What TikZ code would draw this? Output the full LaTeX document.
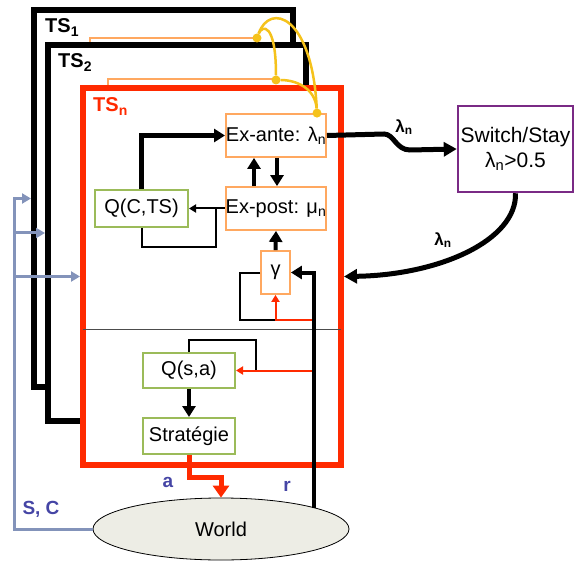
\documentclass[tikz,border=0pt]{standalone}
\usepackage{fontspec}
\setmainfont{Liberation Sans}
\usepackage{xcolor}
\usepackage{tikz}
\usetikzlibrary{arrows.meta,shapes.geometric,calc}
\definecolor{cRouge}{HTML}{FF2A00}
\definecolor{cOrange}{HTML}{FFA860}
\definecolor{cVert}{HTML}{9BBB59}
\definecolor{cViolet}{HTML}{7A2A85}
\definecolor{cJaune}{HTML}{F5C21B}
\definecolor{cGris}{HTML}{8393BA}
\definecolor{cBleu}{HTML}{4545A5}
\definecolor{cMonde}{HTML}{EDEDE5}
\tikzset{
  cadre/.style={draw,line width=6pt,fill=white,inner sep=0pt},
  tslbl/.style={inner sep=0pt,anchor=base west,font=\bfseries\fontsize{20}{24}\selectfont},
  estim/.style={draw=cOrange,line width=1.8pt,fill=white,inner sep=0pt,font=\fontsize{20}{24}\selectfont},
  qval/.style={draw=cVert,line width=2pt,fill=white,inner sep=0pt,font=\fontsize{20}{24}\selectfont},
  pt/.style={circle,fill=cJaune,inner sep=0pt,minimum size=9pt},
  lien/.style={cJaune,line width=2.5pt},
  gros/.style={line width=4.5pt,-{Triangle[length=11pt,width=13pt]}},
  fin/.style={line width=2pt},
  rouge/.style={cRouge,line width=2pt,-{Triangle[length=7pt,width=8pt]}},
  sc/.style={cGris,line width=3pt,-{Triangle[length=9pt,width=10pt]}},
  lbl/.style={inner sep=0pt,text=cBleu,font=\bfseries\fontsize{19}{22}\selectfont},
  lam/.style={inner sep=0pt,font=\bfseries\fontsize{17}{20}\selectfont}
}
\begin{document}
\begin{tikzpicture}[x=1pt,y=-1pt]
\useasboundingbox (0,0) rectangle (575,561);
\node[cadre,minimum width=259pt,minimum height=377pt] (ts1) at (163.5,198.5) {};
\node[tslbl] (l1) at (45,33) {TS\textsubscript{1}};
\draw[cOrange,line width=1.5pt] (90,60) |- (257,38);
\node[cadre,minimum width=258pt,minimum height=376pt] (ts2) at (177,233) {};
\node[tslbl] (l2) at (58,68) {TS\textsubscript{2}};
\draw[cOrange,line width=1.5pt] (108,100) |- (276,79);
\node[cadre,draw=cRouge,minimum width=258pt,minimum height=377pt] (tsn) at (212,276.5) {};
\node[tslbl,text=cRouge] (ln) at (93,112) {TS\textsubscript{n}};
\draw[black!70,line width=0.8pt] (83,329) -- (341,329);

\node[estim,minimum width=98pt,minimum height=43pt] (exa) at (276,135.5) {Ex-ante: λ\textsubscript{n}};
\node[estim,minimum width=98pt,minimum height=43pt] (exp) at (276,208.5) {Ex-post: μ\textsubscript{n}};
\node[qval,minimum width=93pt,minimum height=37pt] (qct) at (141.5,208.5) {Q(C,TS)};
\node[estim,minimum width=29pt,minimum height=43pt] (gam) at (275.5,272.5) {γ};
\node[qval,minimum width=92pt,minimum height=35pt] (qsa) at (189,370.5) {Q(s,a)};
\node[qval,minimum width=92pt,minimum height=36pt] (strat) at (189,436) {Stratégie};
\node[draw=cViolet,line width=2.5pt,fill=white,inner sep=0pt,minimum width=115pt,minimum height=86pt,
  align=center,font=\fontsize{21}{25}\selectfont] (sw) at (515.5,149) {Switch/Stay\\λ\textsubscript{n}>0.5};
\node[ellipse,draw,line width=0.8pt,fill=cMonde,inner sep=0pt,minimum width=256pt,minimum height=62pt,
  font=\fontsize{20}{24}\selectfont] (monde) at (221,529) {World};
\coordinate (rbas) at (314,508);
\coordinate (bus) at (14,198.5);
\coordinate (lp1) at (216,247);
\coordinate (lp2) at (240,320);
\coordinate (lp3) at (256,340);

\draw[gros,line width=5pt] (qct.north) |- (exa.west);
\draw[gros,line width=4pt] ([xshift=-22pt]exp.north) -- ([xshift=-22pt]exa.south);
\draw[gros,line width=4pt] ([xshift=1pt]exa.south) -- ([xshift=1pt]exp.north);
\draw[fin] (qct.south) |- (lp1) -- (lp1 |- exp.west);
\draw[fin,-{Triangle[length=7pt,width=8pt]}] (exp.west) -- (qct.east);
\draw[gros,line width=4pt] (gam.north) -- (exp.south);
\draw[fin] (gam.west) -| (lp2) -- (lp2 -| gam.south);
\draw[rouge] (lp2 -| rbas) -| (gam.south);
\draw[fin] (qsa.north) |- (lp3) -- (lp3 |- qsa.east);
\draw[rouge] (rbas |- qsa.east) -- (qsa.east);
\draw[gros,line width=4pt] (rbas) |- (gam.east);
\draw[gros,line width=4.5pt] (qsa.south) -- (strat.north);
\draw[cRouge,line width=5pt,-{Triangle[length=12pt,width=16pt]}] (strat.south) -- ++(0,22) -| (monde.north);
\node[lbl] (la) at (168,482) {a};
\node[lbl] (lr) at (287,486) {r};

\draw[sc] (monde.west) -| (bus) -- (ts1.west);
\draw[sc] (bus |- ts2.west) -- (ts2.west);
\draw[sc] (bus |- tsn.west) -- (tsn.west);
\node[lbl] (lsc) at (41,509) {S, C};

\draw[gros,line width=5pt,-{Triangle[length=13pt,width=14pt]}] (exa.east) -- (384,134) .. controls (394,134) and (396,150) .. (410,150) -- (sw.west);
\node[lam] (lam1) at (404,127) {λ\textsubscript{n}};
\draw[gros,line width=5pt,-{Triangle[length=13pt,width=14pt]}] (sw.south) .. controls (517,240) and (440,275) .. (tsn.east);
\node[lam] (lam2) at (443,240) {λ\textsubscript{n}};

\node[pt] (d1) at (257,38) {};
\node[pt] (d2) at (276,80) {};
\node[pt] (d3) at ([xshift=41pt]exa.north) {};
\draw[lien] (d1) .. controls (262,25) and (276,22) .. (d2);
\draw[lien] (d1) .. controls (270,2) and (312,15) .. (d3);
\draw[lien] (d2) .. controls (296,80) and (315,88) .. (d3);
\end{tikzpicture}
\end{document}
